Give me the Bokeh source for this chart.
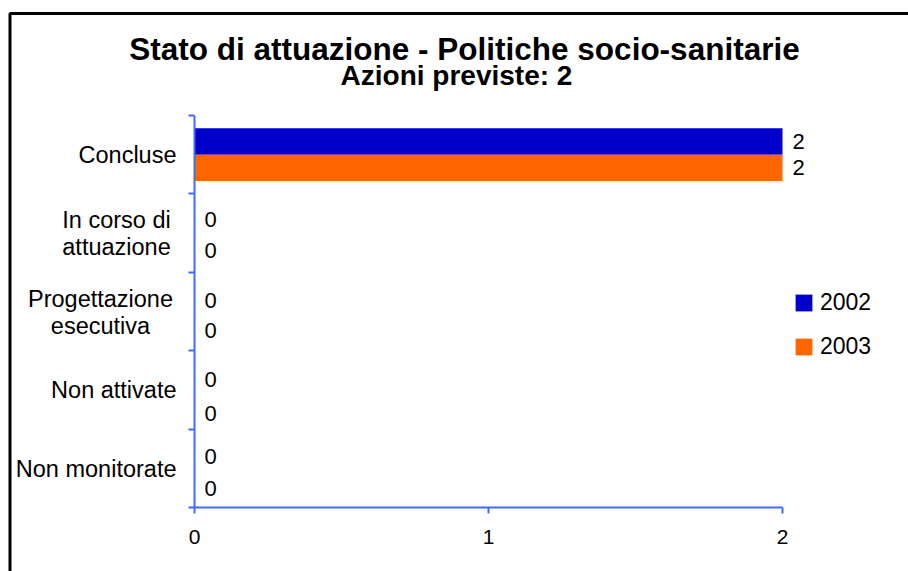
from bokeh.plotting import figure
from bokeh.models import (Range1d, FixedTicker, LinearAxis, Label, LabelSet, ColumnDataSource,
                          Legend, LegendItem, BoxAnnotation)
from bokeh.core.properties import value
from bokeh.embed import file_html
from bokeh.resources import INLINE

# ---- data ----
title = "Stato di attuazione - Politiche socio-sanitarie"
subtitle = "Azioni previste: 2"
categories = ["Concluse", "In corso di\nattuazione", "Progettazione\nesecutiva", "Non attivate", "Non monitorate"]
series_names = ["2002", "2003"]
values_2002 = [2, 0, 0, 0, 0]
values_2003 = [2, 0, 0, 0, 0]
x_ticks = [0, 1, 2]
x_max = 2

# ---- style / layout (pixel geometry of the page) ----
FONT = "Liberation Sans"
BLUE = "#0000CC"
ORANGE = "#FF6600"
AXIS_BLUE = "#3D6BFF"
W, H = 908, 571
X0_PX, X1_PX = 194, 782      # where 0 and x_max fall
Y_TOP_PX, Y_BOT_PX = 115, 507  # top / bottom of the category area
n = len(categories)
ppu_x = (X1_PX - X0_PX) / x_max
ppu_y = (Y_BOT_PX - Y_TOP_PX) / n
x_start = -X0_PX / ppu_x
x_end = (W - X0_PX) / ppu_x
y_end = n + Y_TOP_PX / ppu_y
y_start = -(H - Y_BOT_PX) / ppu_y


def dx(px):
    return x_start + px / ppu_x


def dy(py):
    return y_end - py / ppu_y


bar_off = 0.168
bar_h = 0.336
nudge_2002 = [0, 0, 1.7, 2.8, 1.4]     # px downward (label anti-overlap as in reference)
nudge_2003 = [0, 4.2, 6.3, 10.4, 7.0]
cat_center_px = [None, 116, 100, None, None]  # multi-line labels are centred on these x
cat_right_px = 176
line_gap = 27
cat_shift = 0.5

p = figure(width=W, height=H, output_backend="svg", toolbar_location=None,
           x_range=Range1d(x_start, x_end), y_range=Range1d(y_start, y_end),
           min_border=0, min_border_left=0, min_border_right=0, min_border_top=0,
           min_border_bottom=0, x_axis_location=None, y_axis_location=None)
p.title.visible = False
p.outline_line_color = None
p.background_fill_color = "white"
p.border_fill_color = "white"
p.grid.visible = False

xaxis = LinearAxis(fixed_location=0, bounds=(0, x_max), ticker=FixedTicker(ticks=x_ticks),
                   axis_line_color=AXIS_BLUE, axis_line_width=2,
                   major_tick_line_color=AXIS_BLUE, major_tick_line_width=2, major_tick_in=0,
                   major_tick_out=6, minor_tick_line_color=None, major_label_text_font=FONT,
                   major_label_text_font_size="21px", major_label_text_color="black",
                   major_label_standoff=16)
p.add_layout(xaxis, "below")
yaxis = LinearAxis(fixed_location=0, bounds=(0, n), ticker=FixedTicker(ticks=list(range(n + 1))),
                   axis_line_color=AXIS_BLUE, axis_line_width=2, major_tick_line_color=AXIS_BLUE,
                   major_tick_line_width=2, major_tick_in=0, major_tick_out=6,
                   minor_tick_line_color=None, major_label_text_font_size="0px",
                   major_label_text_color=None)
p.add_layout(yaxis, "left")

centers = [n - 0.5 - i for i in range(n)]
y2002 = [c + bar_off for c in centers]
y2003 = [c - bar_off for c in centers]

r1 = p.hbar(y=y2002, left=0, right=values_2002, height=bar_h, fill_color=BLUE, line_color=None)
r2 = p.hbar(y=y2003, left=0, right=values_2003, height=bar_h, fill_color=ORANGE, line_color=None)

lab_src = ColumnDataSource(dict(
    x=values_2002 + values_2003,
    y=[y - nd / ppu_y for y, nd in zip(y2002, nudge_2002)] +
      [y - nd / ppu_y for y, nd in zip(y2003, nudge_2003)],
    t=[str(v) for v in values_2002 + values_2003],
))
p.add_layout(LabelSet(x="x", y="y", text="t", source=lab_src, x_offset=10,
                      text_align="left", text_baseline="middle", text_font=value(FONT),
                      text_font_size="22px", text_color="black"))

for i, cat in enumerate(categories):
    lines = cat.split("\n")
    m = len(lines)
    for j, ln in enumerate(lines):
        yy = centers[i] + (((m - 1) / 2 - j) * line_gap - cat_shift) / ppu_y
        if cat_center_px[i] is None:
            lbl = Label(x=dx(cat_right_px), y=yy, text=ln, text_align="right")
        else:
            lbl = Label(x=dx(cat_center_px[i]), y=yy, text=ln, text_align="center")
        lbl.text_baseline = "middle"
        lbl.text_font = FONT
        lbl.text_font_size = "23.5px"
        lbl.text_color = "black"
        p.add_layout(lbl)

p.add_layout(Label(x=dx(464), y=dy(48), text=title, text_align="center",
                   text_baseline="middle", text_font=FONT, text_font_style="bold",
                   text_font_size="31.5px", text_color="black"))
p.add_layout(Label(x=dx(456), y=dy(75), text=subtitle, text_align="center",
                   text_baseline="middle", text_font=FONT, text_font_style="bold",
                   text_font_size="28px", text_color="black"))

legend = Legend(items=[LegendItem(label=series_names[0], renderers=[r1]),
                       LegendItem(label=series_names[1], renderers=[r2])],
                location=(793, H - 360), glyph_width=21, glyph_height=21, label_standoff=6,
                spacing=17, padding=0, margin=0, border_line_color=None,
                background_fill_alpha=0, label_text_font=FONT, label_text_font_size="23px",
                label_text_color="black", label_height=17)
p.add_layout(legend)

p.add_layout(BoxAnnotation(left=dx(9.5), right=x_end + 1, top=dy(13), bottom=y_start - 1,
                           fill_color=None, fill_alpha=0, line_color="black", line_alpha=1,
                           line_width=3))

open("out.html", "w").write(file_html(p, INLINE))
